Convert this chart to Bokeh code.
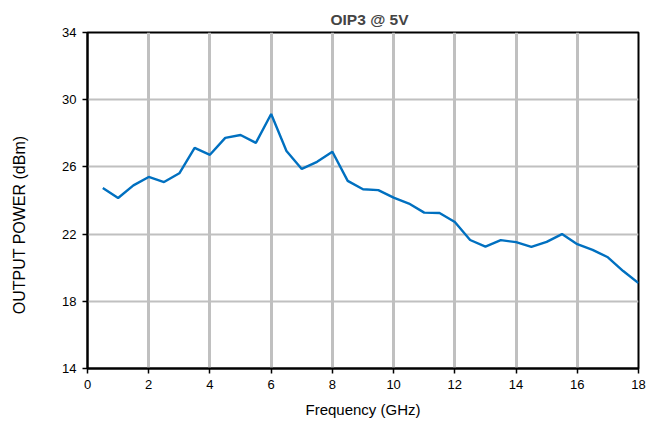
from bokeh.plotting import figure
from bokeh.models import Range1d, FixedTicker
from bokeh.embed import file_html
from bokeh.resources import INLINE

# OIP3 measured at 5 V supply, 0.5 GHz steps
freq_ghz = [0.5, 1.0, 1.5, 2.0, 2.5, 3.0, 3.5, 4.0, 4.5, 5.0, 5.5, 6.0,
            6.5, 7.0, 7.5, 8.0, 8.5, 9.0, 9.5, 10.0, 10.5, 11.0, 11.5, 12.0,
            12.5, 13.0, 13.5, 14.0, 14.5, 15.0, 15.5, 16.0, 16.5, 17.0, 17.5, 18.0]
oip3_dbm = [24.75, 24.15, 24.9, 25.4, 25.1, 25.62, 27.13, 26.72, 27.73, 27.9, 27.43, 29.15,
            26.95, 25.88, 26.3, 26.9, 25.17, 24.67, 24.62, 24.17, 23.82, 23.28, 23.26, 22.72,
            21.65, 21.26, 21.64, 21.52, 21.24, 21.54, 22.0, 21.4, 21.06, 20.62, 19.8, 19.08]

x_ticks = [0, 2, 4, 6, 8, 10, 12, 14, 16, 18]
y_ticks = [14, 18, 22, 26, 30, 34]

FONT = "Liberation Sans"

p = figure(width=660, height=428, output_backend="svg", toolbar_location=None,
           x_range=Range1d(0, 18), y_range=Range1d(14, 34),
           min_border_left=87, min_border_right=22, min_border_top=32,
           min_border_bottom=60)

p.title.text = "OIP3 @ 5V"
p.title.align = "left"
p.title.text_font = FONT
p.title.text_font_size = "15.5px"
p.title.text_font_style = "bold"
p.title.offset = 243
p.title.standoff = 9

p.line(freq_ghz, oip3_dbm, line_color="#0070C0", line_width=2.4)

p.xaxis.ticker = FixedTicker(ticks=x_ticks)
p.yaxis.ticker = FixedTicker(ticks=y_ticks)
for ax in (p.xaxis[0], p.yaxis[0]):
    ax.axis_line_color = "black"
    ax.axis_line_width = 2
    ax.major_tick_line_color = "black"
    ax.major_tick_line_width = 1.5
    ax.major_tick_in = 0
    ax.major_tick_out = 5
    ax.minor_tick_line_color = None
    ax.major_label_text_font = FONT
    ax.major_label_text_font_size = "13px"
    ax.major_label_text_color = "black"
    ax.axis_label_text_font = FONT
    ax.axis_label_text_font_size = "15px"
    ax.axis_label_text_font_style = "normal"
    ax.axis_label_text_color = "black"

p.xaxis.axis_label = "Frequency (GHz)"
# trailing no-break spaces push the rotated title down along the axis
p.yaxis.axis_label = "OUTPUT POWER (dBm)" + "\u00a0" * 11
p.yaxis.axis_label_text_font_size = "16px"
p.xaxis.major_label_standoff = 6
p.yaxis.major_label_standoff = 6
p.xaxis.axis_label_standoff = 9
p.yaxis.axis_label_standoff = 31

p.xgrid.grid_line_color = "#c0c0c0"
p.xgrid.grid_line_width = 3
p.ygrid.grid_line_color = "#c0c0c0"
p.ygrid.grid_line_width = 2

p.outline_line_color = "black"
p.outline_line_width = 2
p.outline_line_alpha = 1

open("out.html", "w").write(file_html(p, INLINE))
